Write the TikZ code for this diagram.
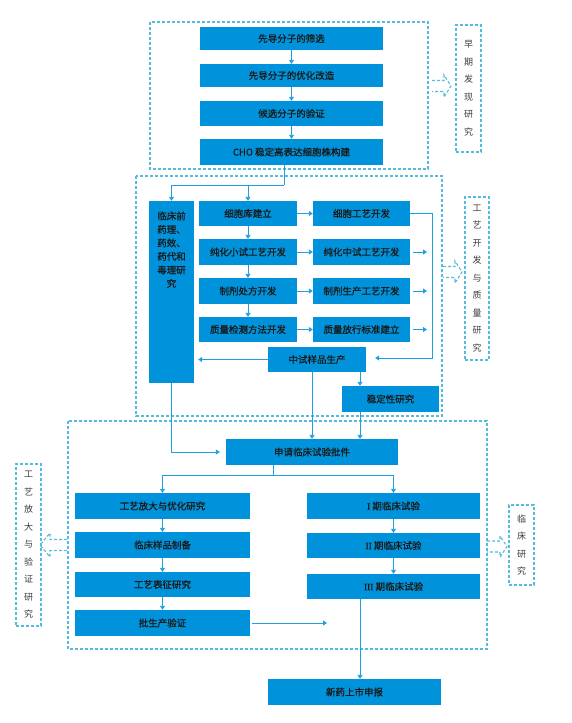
\documentclass[tikz,border=0pt]{standalone}
\usepackage{fontspec}
\setmainfont{Noto Sans CJK SC}
\newfontfamily\boxfont{Noto Sans CJK SC}[FakeBold=0.8]
\newfontfamily\numfont{Liberation Serif}[FakeBold=0.8]
\usepackage{xcolor}
\usepackage{tikz}
\usetikzlibrary{arrows.meta, calc}

\definecolor{boxblue}{RGB}{0,146,218}
\definecolor{linkblue}{RGB}{28,160,226}
\definecolor{dashblue}{RGB}{85,188,222}
\definecolor{tagtext}{RGB}{60,60,60}

\begin{document}
\begin{tikzpicture}[
		x=1pt, y=-1pt,
		font=\fontsize{9.5}{11}\selectfont,
		stage/.style={fill=boxblue, text=black!90, inner sep=0pt, minimum height=25pt,
			font=\boxfont\fontsize{9.5}{11}\selectfont},
		arr/.style={-{Triangle[length=4pt, width=5pt]}, linkblue, line width=0.9pt},
		wire/.style={linkblue, line width=0.9pt},
		frame/.style={dashblue, line width=1.1pt, dash pattern=on 3pt off 2pt},
		tag/.style={frame, draw, text=tagtext, align=center, inner sep=0pt,
			minimum width=25pt, font=\fontsize{9}{17.5}\selectfont}
		]
		
		\useasboundingbox[fill=white] (0,0) rectangle (571,723);
		
		% Early discovery
		\draw[frame] (150,22) rectangle (428,169);
		\node[stage, minimum width=183pt, minimum height=23pt] (screen) at (291.5,38.5) {先导分子的筛选};
		\node[stage, minimum width=183pt, minimum height=23pt] (optim) at (291.5,75.5) {先导分子的优化改造};
		\node[stage, minimum width=183pt, minimum height=25pt] (verify) at (291.5,113.5) {候选分子的验证};
		\node[stage, minimum width=183pt, minimum height=26pt] (cho) at (291.5,152) {CHO 稳定高表达细胞株构建};
		\draw[arr] (screen) -- (optim);
		\draw[arr] (optim) -- (verify);
		\draw[arr] (verify) -- (cho);
		
		\node[tag, minimum height=127pt] (tagA) at (468.5,88.5) {早\\期\\发\\现\\研\\究};
		\draw[frame] (432,80.5) -- (444,80.5) -- (444,75) -- (451,86) -- (444,97) -- (444,91.5) -- (432,91.5);
		
		% Process development and quality
		\draw[frame] (136,176) rectangle (442,416);
		\coordinate (split) at (284,185);
		\coordinate (trunk) at (432,358);
		\coordinate (side) at (360,0);
		
		\node[stage, minimum width=45pt, minimum height=182pt] (pre) at (171.5,292) {};
		\node[align=center, anchor=north, text=black!90, font=\boxfont\fontsize{9.5}{13.5}\selectfont] (pretext)
		at (171.5,208) {临床前\\药理、\\药效、\\药代和\\毒理研\\究};
		
		\node[stage, minimum width=98pt] (bank) at (248,213.5) {细胞库建立};
		\node[stage, minimum width=97pt] (cellproc) at (361.5,213.5) {细胞工艺开发};
		\node[stage, minimum width=98pt, minimum height=26pt] (purlab) at (248,252) {纯化小试工艺开发};
		\node[stage, minimum width=97pt, minimum height=26pt] (purpilot) at (361.5,252) {纯化中试工艺开发};
		\node[stage, minimum width=98pt, minimum height=26pt] (form) at (248,291) {制剂处方开发};
		\node[stage, minimum width=97pt, minimum height=26pt] (formproc) at (361.5,291) {制剂生产工艺开发};
		\node[stage, minimum width=98pt] (qcmethod) at (248,329.5) {质量检测方法开发};
		\node[stage, minimum width=97pt] (qcspec) at (361.5,329.5) {质量放行标准建立};
		\node[stage, minimum width=98pt] (pilot) at (317,359.5) {中试样品生产};
		\node[stage, minimum width=97pt, minimum height=26pt] (stab) at (390.5,399) {稳定性研究};
		
		\draw[wire] (cho.south -| split) -- (split);
		\draw[arr] (split) -| (pre.north);
		\draw[arr] (bank.north |- split) -- (bank.north);
		
		\draw[arr] (bank) -- (cellproc);
		\draw[arr] (purlab) -- (purpilot);
		\draw[arr] (form) -- (formproc);
		\draw[arr] (qcmethod) -- (qcspec);
		\draw[arr] (bank) -- (purlab);
		\draw[arr] (purlab) -- (form);
		\draw[arr] (form) -- (qcmethod);
		
		\draw[arr, shorten >=9pt] (cellproc.east) -| (trunk) -- (pilot.east |- trunk);
		\draw[arr, shorten <=3pt, shorten >=5pt] (purpilot.east) -- (purpilot.east -| trunk);
		\draw[arr, shorten <=3pt, shorten >=5pt] (formproc.east) -- (formproc.east -| trunk);
		\draw[arr, shorten <=3pt, shorten >=5pt] (qcspec.east) -- (qcspec.east -| trunk);
		\draw[arr, shorten >=4pt] (pilot.west) -- (pilot.west -| pre.east);
		\draw[arr] (pilot.south -| side) -- (stab.north -| side);
		
		\node[tag, minimum width=24pt, minimum height=163pt] (tagB) at (477,278.5) {工\\艺\\开\\发\\与\\质\\量\\研\\究};
		\draw[frame] (443,266.5) -- (455,266.5) -- (455,261) -- (462,272) -- (455,283) -- (455,277.5) -- (443,277.5);
		
		% Scale-up and clinical
		\draw[frame] (68,421) rectangle (487,649);
		\coordinate (fork) at (273,475);
		\coordinate (batchend) at (327,623);
		
		\node[stage, minimum width=172pt, minimum height=26pt] (apply) at (312,452) {申请临床试验批件};
		\draw[arr, shorten >=6pt] (pre.south) |- (apply.west);
		\draw[arr] (apply.north |- pilot.south) -- (apply.north);
		\draw[arr] (stab.south -| side) -- (apply.north -| side);
		
		\node[stage, minimum width=175pt, minimum height=26pt] (scaleup) at (162.5,506) {工艺放大与优化研究};
		\node[stage, minimum width=175pt, minimum height=26pt] (clinsamp) at (162.5,545) {临床样品制备};
		\node[stage, minimum width=175pt] (charact) at (162.5,584.5) {工艺表征研究};
		\node[stage, minimum width=175pt, minimum height=26pt] (batch) at (162.5,623) {批生产验证};
		
		\node[stage, minimum width=173pt, minimum height=26pt] (ph1) at (393.5,506) {{\numfont I} 期临床试验};
		\node[stage, minimum width=173pt] (ph2) at (393.5,545.5) {{\numfont II} 期临床试验};
		\node[stage, minimum width=173pt] (ph3) at (393.5,586.5) {{\numfont III} 期临床试验};
		
		\draw[wire] (apply.south -| fork) -- (fork);
		\draw[arr] (fork) -| (scaleup.north);
		\draw[arr] (fork) -| (ph1.north);
		\draw[arr] (scaleup) -- (clinsamp);
		\draw[arr] (clinsamp) -- (charact);
		\draw[arr] (charact) -- (batch);
		\draw[arr] (ph1) -- (ph2);
		\draw[arr] (ph2) -- (ph3);
		\draw[arr, shorten <=2pt] (batch.east) -- (batchend);
		
		\node[tag, minimum height=162pt] (tagC) at (28.5,545) {工\\艺\\放\\大\\与\\验\\证\\研\\究};
		\draw[frame] (67,539.5) -- (50,539.5) -- (50,533) -- (40,545) -- (50,557) -- (50,550.5) -- (67,550.5);
		
		\node[tag, minimum height=80pt] (tagD) at (521.5,545) {临\\床\\研\\究};
		\draw[frame] (487,541) -- (500,541) -- (500,536) -- (507,546.5) -- (500,557) -- (500,552) -- (487,552);
		
		% Filing
		\node[stage, minimum width=173pt, minimum height=26pt] (nda) at (354.5,692) {新药上市申报};
		\draw[arr] (ph3.south -| side) -- (nda.north -| side);
		
	\end{tikzpicture}
\end{document}
